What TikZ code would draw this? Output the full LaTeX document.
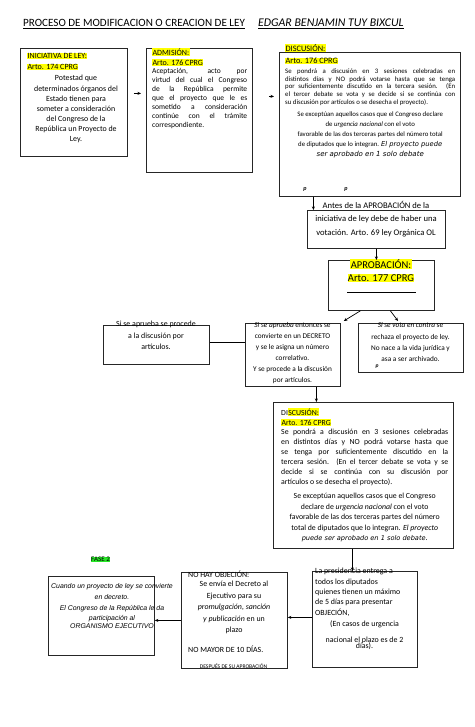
\documentclass[tikz,border=0pt]{standalone}
\usepackage{fontspec}
\setmainfont{Carlito}
\newfontfamily\verd{DejaVu Sans}
\newfontfamily\arialf{Liberation Sans}
\usetikzlibrary{arrows.meta}
\definecolor{hlyel}{RGB}{255,255,0}
\definecolor{hlgrn}{RGB}{40,230,40}
\newcommand{\hly}[1]{{\setlength{\fboxsep}{0.4pt}\colorbox{hlyel}{#1}}}
\newcommand{\fsz}[2]{\fontsize{#1}{#2}\selectfont}
\begin{document}
\begin{tikzpicture}[x=1pt,y=-1pt,
 box/.style={draw=black!85,line width=0.8pt,inner sep=0pt,anchor=north west},
 txt/.style={inner sep=0pt},
 arr/.style={line width=0.7pt,-{Stealth[length=3.5pt,width=3pt]}},
 ln/.style={line width=0.7pt}]
\fill[white] (0,0) rectangle (474,727);
\useasboundingbox (0,0) rectangle (474,727);

% title
\node[txt,anchor=base west,font=\fsz{11.1}{13}] (t1) at (23,27) {PROCESO DE MODIFICACION O CREACION DE LEY};
\draw[line width=0.6pt] ([yshift=-1.6pt]t1.base west) -- ([yshift=-1.6pt]t1.base east);
\node[txt,anchor=base west,font=\fsz{11.8}{13}\itshape] (t2) at (258,27) {EDGAR BENJAMIN TUY BIXCUL};
\draw[line width=0.6pt] ([yshift=-1.6pt]t2.base west) -- ([yshift=-1.6pt]t2.base east);

% boxes
\node[box,minimum width=107pt,minimum height=108pt] (ini) at (20,48) {};
\node[box,minimum width=106pt,minimum height=124pt] (adm) at (146,48) {};
\node[box,minimum width=181pt,minimum height=144pt] (dis1) at (279,52) {};
\node[box,minimum width=138pt,minimum height=38pt] (antes) at (307,210) {};
\node[box,minimum width=106pt,minimum height=50pt] (aprob) at (328,260) {};
\node[box,minimum width=106pt,minimum height=39pt] (lft) at (103,325) {};
\node[box,minimum width=95pt,minimum height=63pt] (mid) at (245,323) {};
\node[box,minimum width=105pt,minimum height=49pt] (rej) at (358,323) {};
\node[box,minimum width=180pt,minimum height=146pt] (dis2) at (273,402) {};
\node[box,minimum width=105pt,minimum height=96pt] (pres) at (312,571) {};
\node[box,minimum width=106pt,minimum height=96pt] (nohay) at (181,572) {};
\node[box,minimum width=106pt,minimum height=79pt] (cuando) at (48,576) {};

% INICIATIVA
\node[txt,anchor=north west,align=left,font=\fsz{8}{11}] (inih) at (27,53) {\hly{INICIATIVA DE LEY:}\\\hly{Arto. 174 CPRG}};
\node[txt,anchor=north,align=center,font=\fsz{7.9}{10.1}] (init) at (76,75.3) {Potestad que\\determinados órganos del\\Estado tienen para\\someter a consideración\\del Congreso de la\\República un Proyecto de\\Ley.};

% ADMISION
\node[txt,anchor=north west,align=left,font=\fsz{8}{10}] (admh) at (152,48) {\hly{ADMISIÓN:}\\\hly{Arto. 176 CPRG}};
\node[txt,anchor=north west,text width=95pt,align=justify,font=\fsz{7.5}{9}] (admt) at (152,68.5) {Aceptación, acto por\linebreak virtud del cual el Congreso\linebreak de la República permite\linebreak que el proyecto que le es\linebreak sometido a consideración\linebreak continúe con el trámite\linebreak correspondiente.};

% DISCUSION 1
\node[txt,anchor=north west,align=left,font=\fsz{8.3}{12.5}] (d1h) at (285,43.8) {\hly{DISCUSIÓN:}\\\hly{Arto. 176 CPRG}};
\node[txt,anchor=north west,text width=170pt,align=justify,font=\fsz{6.8}{7.7}] (d1t) at (285,68.6) {Se pondrá a discusión en 3 sesiones celebradas en\linebreak distintos días y NO podrá votarse hasta que se tenga\linebreak por suficientemente discutido en la tercera sesión. (En\linebreak el tercer debate se vota y se decide si se continúa con\linebreak su discusión por artículos o se desecha el proyecto).\par
\vspace{2.5pt}{\centering\fsz{6.8}{10}Se exceptúan aquellos casos que el Congreso declare\\de \textit{urgencia nacional} con el voto\\favorable de las dos terceras partes del número total\\de diputados que lo integran. {\verd\itshape\fontsize{6.7}{10}\selectfont El proyecto puede}\\{\verd\itshape\fontsize{7}{10}\selectfont ser aprobado en 1 solo debate}\par}};
\node[txt,font=\fsz{6}{7}\bfseries\itshape] (p1) at (305,189) {p};
\node[txt,font=\fsz{6}{7}\bfseries\itshape] (p2) at (346,189) {p};

% ANTES
\node[txt,anchor=north,align=center,font=\fsz{8.6}{13.5}] (antt) at (376,200.7) {Antes de la APROBACIÓN de la\\iniciativa de ley debe de haber una\\votación. Arto. 69 ley Orgánica OL};

% APROBACION
\node[txt,anchor=north,align=center,font=\fsz{10.5}{13}] (aprt) at (381,258.7) {\hly{APROBACIÓN:}\\\hly{Arto. 177 CPRG}};
\draw[ln] (347,292) -- (416,292);

% left, mid, right
\node[txt,anchor=north,align=center,font=\fsz{7.9}{11.5}] (lftt) at (156,321.2) {Si se aprueba se procede\\a la discusión por\\artículos.};
\node[txt,anchor=north,align=center,font=\fsz{7.3}{11}] (midt) at (292.5,322.4) {\textit{Si se aprueba} entonces se\\convierte en un DECRETO\\y se le asigna un número\\correlativo.\\Y se procede a la discusión\\por artículos.};
\node[txt,anchor=north,align=center,font=\fsz{7.3}{11.4}] (rejt) at (410.5,322.4) {\textit{Si se vota en contra} se\\rechaza el proyecto de ley.\\No nace a la vida jurídica y\\asa a ser archivado.};
\node[txt,font=\fsz{5.5}{6}\bfseries\itshape] (p3) at (377,367) {p};

% DISCUSION 2
\node[txt,anchor=north west,align=left,font=\fsz{7.8}{10}] (d2h) at (281,408) {DI\hly{SCUSIÓN:}\\\hly{Arto. 176 CPRG}};
\node[txt,anchor=north west,text width=167pt,align=justify,font=\fsz{7.8}{10}] (d2t) at (281,429.1) {Se pondrá a discusión en 3 sesiones celebradas\linebreak en distintos días y NO podrá votarse hasta que\linebreak se tenga por suficientemente discutido en la\linebreak tercera sesión. (En el tercer debate se vota y se\linebreak decide si se continúa con su discusión por\linebreak artículos o se desecha el proyecto).\par
\vspace{3.5pt}{\centering\fsz{7.8}{10.5}Se exceptúan aquellos casos que el Congreso\\declare de \textit{urgencia nacional} con el voto\\favorable de las dos terceras partes del número\\total de diputados que lo integran. \textit{El proyecto}\\{\verd\itshape\fontsize{6.6}{10.5}\selectfont puede ser aprobado en 1 solo debate}.\par}};

% PRESIDENCIA
\node[txt,anchor=north west,align=left,font=\fsz{7.9}{10.4}] (prest) at (315,568.1) {La presidencia entrega a\\todos los diputados\\quienes tienen un máximo\\de 5 días para presentar\\OBJECIÓN,};
\node[txt,anchor=north,align=center,font=\fsz{7.9}{10}] (presu) at (364.5,620.1) {(En casos de urgencia\\[6pt]nacional el plazo es de 2\\[-3.5pt]días).};

% NO HAY OBJECION
\node[txt,anchor=north west,font=\fsz{7.9}{10}] (noh) at (188,571) {NO HAY OBJECIÓN:};
\node[txt,anchor=north,align=center,font=\fsz{7.9}{11.5}] (noht) at (234,581) {Se envía el Decreto al\\Ejecutivo para su\\\textit{promulgación, sanción}\\\textit{y publicación} en un\\plazo};
\node[txt,anchor=west,font=\fsz{7.9}{10}] (nohm) at (188,649) {NO MAYOR DE 10 DÍAS.};
\node[txt,font=\fsz{5.6}{6}] (nohd) at (233.5,666.5) {DESPUÉS DE SU APROBACIÓN};

% CUANDO
\node[txt,fill=hlgrn,inner sep=0.6pt,font=\fsz{7}{8}] (fase) at (100.5,559.5) {FASE 2};
\node[txt,anchor=north,align=center,font=\arialf\itshape\fsz{6.9}{10.7}] (cuat) at (112,583.5) {Cuando un proyecto de ley se convierte\\en decreto.\\El Congreso de la República le da\\participación al\\[-2.7pt]ORGANISMO EJECUTIVO};

% connectors
\draw[arr] ([xshift=6pt,yshift=9pt]ini.east) -- ([xshift=-5pt,yshift=17pt]adm.west);
\draw[arr] ([xshift=16pt,yshift=14pt]adm.east) -- ([xshift=-5pt,yshift=28pt]dis1.west);
\draw[arr] ([xshift=-56.5pt]dis1.south) -- ([xshift=-56.5pt]dis1.south |- antes.north);
\draw[arr] (antes.south) -- (antes.south |- aprob.north);
\draw[arr] ([xshift=-21pt]aprob.south) -- ([xshift=3pt,yshift=2pt]mid.north east);
\draw[arr] ([xshift=9pt]aprob.south) -- ([xshift=40pt,yshift=2pt]rej.north west);
\draw[ln] ([yshift=2.5pt]lft.east) -- ([yshift=2.5pt]lft.east -| mid.west);
\draw[arr] ([xshift=23.5pt]mid.south) -- ([xshift=23.5pt]mid.south |- dis2.north);
\draw[arr] ([xshift=-11pt]dis2.south) -- ([xshift=-11pt]dis2.south |- pres.north);
\draw[arr] ([yshift=2pt]pres.west) -- ([yshift=2pt]pres.west -| nohay.east);
\draw[arr] (nohay.west) -- (nohay.west -| cuando.east);
\end{tikzpicture}
\end{document}
